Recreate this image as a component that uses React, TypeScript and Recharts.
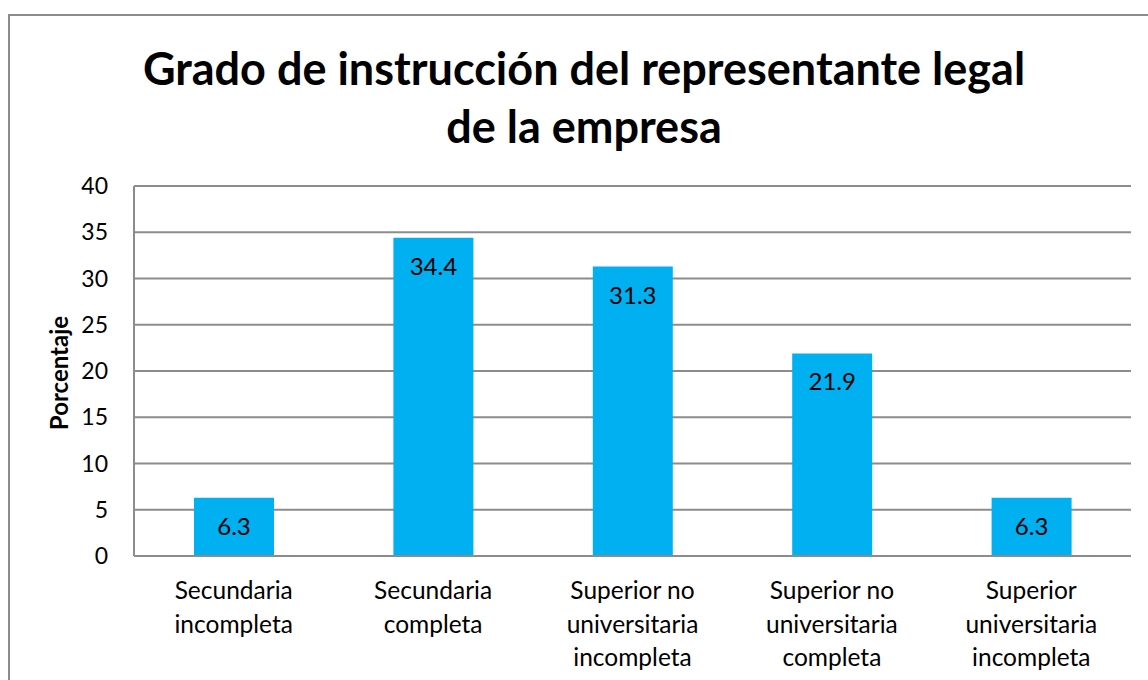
import { Bar, BarChart, CartesianGrid, LabelList, XAxis, YAxis } from "recharts";

const categories = [
  "Secundaria incompleta",
  "Secundaria completa",
  "Superior no universitaria incompleta",
  "Superior no universitaria completa",
  "Superior universitaria incompleta",
];
const percentages = [6.3, 34.4, 31.3, 21.9, 6.3];
const yTicks = [0, 5, 10, 15, 20, 25, 30, 35, 40];
const titleLines = ["Grado de instrucción del representante legal", "de la empresa"];
const yAxisTitle = "Porcentaje";

const FONT = "Lato, 'Open Sans', sans-serif";
const GRID = "#8c8c8c";

const data = categories.map((name, i) => ({ name, value: percentages[i] }));

// greedy word wrap, roughly 12 chars a line
const wrap = (text: string, max = 12) => {
  const lines: string[] = [];
  let cur = "";
  text.split(" ").forEach((w) => {
    if (!cur) cur = w;
    else if ((cur + " " + w).length <= max) cur += " " + w;
    else {
      lines.push(cur);
      cur = w;
    }
  });
  if (cur) lines.push(cur);
  return lines;
};

const CategoryTick = (props: any) => {
  const { x, y, payload } = props;
  return (
    <g>
      {wrap(payload.value).map((line, i) => (
        <text
          key={i}
          x={x}
          y={y + 35 + i * 33.5}
          textAnchor="middle"
          fontSize={24.5}
          fontFamily={FONT}
          fill="#000"
        >
          {line}
        </text>
      ))}
    </g>
  );
};

const App = () => {
  return (
    <div
      style={{
        position: "absolute",
        left: 0,
        top: 0,
        width: 1148,
        height: 680,
        overflow: "hidden",
        background: "#fff",
      }}
    >
      <div
        style={{
          position: "absolute",
          left: 8,
          top: 14,
          width: 1200,
          height: 700,
          border: "2px solid #8c8c8c",
          boxSizing: "border-box",
        }}
      />
      <div
        style={{
          position: "absolute",
          left: 0,
          top: 39,
          width: 1168,
          textAlign: "center",
          fontFamily: FONT,
          fontWeight: 700,
          fontSize: 45,
          lineHeight: "58px",
          color: "#000",
        }}
      >
        {titleLines.map((l) => (
          <div key={l}>{l}</div>
        ))}
      </div>
      <div style={{ position: "absolute", left: 0, top: 0 }}>
        <BarChart
          width={1148}
          height={680}
          data={data}
          margin={{ top: 186, right: 17, bottom: 0, left: 0 }}
          barCategoryGap={0}
        >
          <CartesianGrid vertical={false} stroke={GRID} strokeWidth={2} />
          <XAxis
            dataKey="name"
            tickLine={false}
            axisLine={{ stroke: GRID, strokeWidth: 2 }}
            tick={<CategoryTick />}
            interval={0}
            height={124}
          />
          <YAxis
            width={134}
            domain={[0, 40]}
            ticks={yTicks}
            interval={0}
            tickLine={false}
            axisLine={{ stroke: GRID, strokeWidth: 2 }}
            tickMargin={20}
            tick={{ fontSize: 23, fill: "#000", fontFamily: FONT }}
            label={{
              content: () => (
                <text
                  x={0}
                  y={0}
                  transform="translate(68, 373) rotate(-90)"
                  textAnchor="middle"
                  fontSize={24}
                  fontWeight={700}
                  fontFamily={FONT}
                  fill="#000"
                >
                  {yAxisTitle}
                </text>
              ),
            }}
          />
          <Bar dataKey="value" fill="#00b0f0" barSize={80} isAnimationActive={false}>
            <LabelList
              dataKey="value"
              position="insideTop"
              offset={20}
              fontSize={24}
              fontFamily={FONT}
              fill="#000"
              formatter={(v: any) => Number(v).toFixed(1)}
            />
          </Bar>
        </BarChart>
      </div>
    </div>
  );
};

export default App;
